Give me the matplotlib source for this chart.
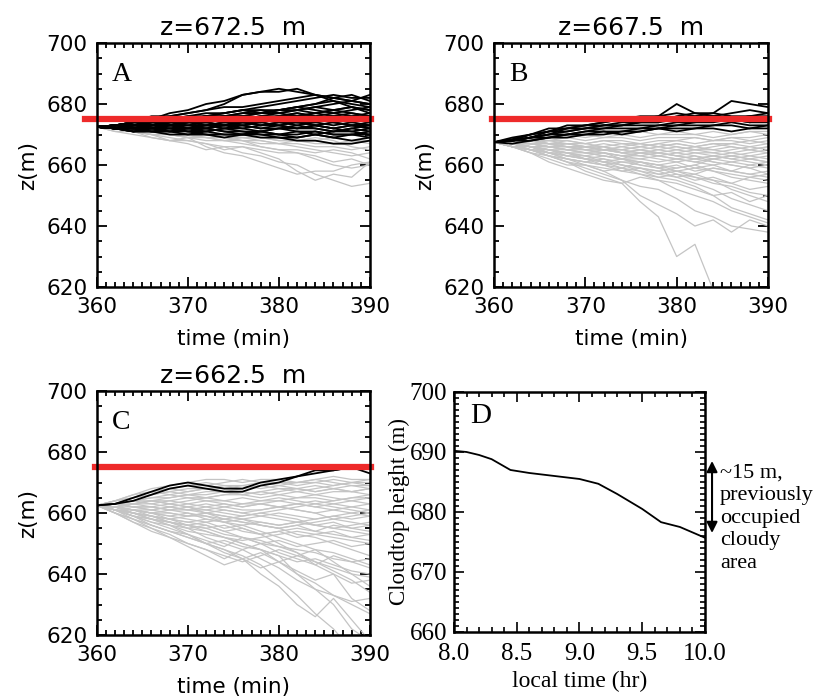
import matplotlib
matplotlib.use("Agg")
import matplotlib.pyplot as plt
from matplotlib.ticker import MultipleLocator

# time axis for the trajectories (min), one value every 2 min
time_min = [360, 362, 364, 366, 368, 370, 372, 374, 376, 378, 380, 382, 384, 386, 388, 390]

cloud_top = 675.0

# panel A, start height 672.5 m
a_black = [
    [672.5, 673, 674, 675, 676, 677, 678, 680, 683, 684, 685, 684, 683, 682, 681, 680],
    [672.5, 673, 674, 675, 677, 678, 680, 681, 683, 684, 684, 685, 683, 681, 679, 678],
    [672.5, 673, 674, 676, 676, 677, 678, 679, 679, 680, 681, 682, 683, 682, 683, 681],
    [672.5, 672, 673, 674, 675, 675, 676, 677, 678, 679, 680, 681, 682, 683, 682, 682],
    [672.5, 673, 673, 674, 674, 675, 676, 676, 677, 678, 678, 679, 680, 681, 680, 679],
    [672.5, 672, 673, 673, 674, 675, 675, 676, 677, 677, 678, 678, 679, 678, 679, 677],
    [672.5, 673, 674, 674, 675, 675, 676, 676, 676, 677, 677, 676, 677, 678, 677, 676],
    [672.5, 672, 672, 673, 673, 674, 674, 675, 675, 676, 676, 677, 676, 677, 676, 675],
    [672.5, 673, 673, 673, 674, 674, 675, 675, 674, 675, 676, 675, 675, 676, 675, 674],
    [672.5, 672, 672, 672, 673, 673, 673, 674, 674, 674, 675, 674, 674, 675, 674, 673],
    [672.5, 672, 671, 672, 672, 672, 673, 673, 672, 673, 673, 672, 673, 674, 673, 672],
    [672.5, 672, 672, 671, 671, 672, 672, 671, 671, 670, 670, 671, 670, 671, 672, 671],
    [672.5, 672, 671, 671, 670, 670, 671, 670, 670, 669, 669, 668, 668, 667, 667, 668],
    [672.5, 673, 672, 672, 673, 672, 673, 672, 673, 672, 673, 674, 673, 672, 673, 672],
    [672.5, 672, 673, 673, 674, 673, 674, 673, 674, 673, 674, 674, 675, 674, 675, 674],
    [672.5, 672, 672, 671, 672, 671, 671, 672, 671, 671, 670, 670, 671, 670, 670, 671],
    [672.5, 673, 673, 674, 675, 676, 676, 677, 678, 678, 677, 678, 679, 680, 681, 680],
    [672.5, 672, 672, 672, 671, 671, 670, 670, 670, 671, 672, 672, 673, 672, 673, 673],
    [672.5, 673, 674, 675, 675, 674, 675, 676, 676, 675, 676, 677, 676, 675, 676, 677],
    [672.5, 672, 672, 673, 673, 672, 672, 673, 674, 674, 673, 672, 672, 671, 671, 670],
    [672.5, 673, 673, 674, 673, 674, 675, 674, 675, 676, 677, 678, 677, 678, 679, 678],
    [672.5, 672, 671, 671, 671, 670, 670, 669, 670, 670, 669, 669, 670, 669, 668, 669],
    [672.5, 673, 673, 674, 674, 675, 674, 675, 676, 675, 676, 676, 677, 676, 677, 676],
    [672.5, 672, 673, 672, 673, 674, 673, 674, 673, 674, 675, 674, 675, 676, 675, 676],
    [672.5, 673, 672, 673, 672, 673, 672, 673, 674, 673, 674, 673, 674, 673, 674, 675],
    [672.5, 672, 671, 672, 671, 672, 671, 672, 672, 671, 672, 673, 672, 671, 672, 673],
    [672.5, 672, 672, 673, 674, 674, 675, 676, 675, 676, 675, 674, 673, 672, 671, 672],
    [672.5, 673, 674, 674, 675, 676, 677, 677, 678, 677, 678, 679, 678, 677, 678, 679],
    [672.5, 672, 672, 672, 672, 671, 672, 671, 670, 671, 670, 669, 670, 669, 670, 670],
    [672.5, 673, 673, 673, 674, 675, 676, 675, 676, 677, 678, 679, 680, 682, 681, 683],
    [672.5, 672, 673, 673, 673, 674, 674, 673, 673, 672, 672, 671, 671, 670, 670, 669],
    [672.5, 673, 674, 673, 674, 675, 675, 674, 675, 674, 675, 676, 675, 674, 673, 674],
]
a_gray = [
    [672.5, 672, 671, 670, 668, 667, 665, 666, 664, 663, 661, 660, 657, 655, 653, 654],
    [672.5, 671, 671, 670, 669, 668, 667, 665, 666, 664, 662, 658, 655, 657, 656, 661],
    [672.5, 672, 671, 669, 668, 669, 666, 664, 663, 661, 659, 657, 658, 658, 660, 661],
    [672.5, 672, 671, 670, 670, 669, 668, 668, 667, 666, 665, 664, 663, 661, 662, 660],
    [672.5, 672, 672, 671, 670, 669, 670, 669, 668, 668, 667, 666, 665, 664, 663, 664],
    [672.5, 672, 671, 671, 670, 670, 669, 668, 669, 668, 667, 667, 666, 666, 665, 666],
    [672.5, 672, 672, 671, 671, 670, 670, 670, 669, 669, 668, 668, 667, 667, 667, 668],
    [672.5, 672, 671, 671, 671, 670, 669, 669, 668, 667, 667, 668, 668, 667, 668, 667],
    [672.5, 672, 672, 672, 671, 671, 670, 670, 670, 669, 669, 668, 669, 668, 666, 665],
    [672.5, 672, 671, 670, 670, 669, 669, 668, 668, 666, 665, 665, 664, 665, 664, 662],
    [672.5, 671, 670, 669, 668, 668, 667, 666, 666, 665, 664, 664, 662, 660, 659, 660],
    [672.5, 672, 671, 671, 670, 670, 670, 669, 669, 669, 668, 668, 668, 669, 668, 668],
]

# panel B, start height 667.5 m
b_black = [
    [667.5, 668.5, 670, 671, 673, 673, 674, 675, 676, 676, 680, 677, 677, 681, 680, 679],
    [667.5, 669, 670, 672, 672, 673, 674, 675, 675, 676, 677, 676, 676, 677, 678, 677],
    [667.5, 668, 669, 671, 672, 673, 673, 674, 674, 675, 675, 676, 677, 676, 676, 676],
    [667.5, 668, 670, 671, 671, 672, 673, 673, 674, 674, 675, 675, 676, 675, 676, 675],
    [667.5, 668, 669, 670, 672, 672, 672, 673, 673, 673, 674, 674, 674, 675, 674, 674],
    [667.5, 668, 669, 670, 670, 671, 672, 672, 672, 673, 673, 673, 673, 674, 673, 673],
    [667.5, 668, 669, 669, 670, 670, 671, 671, 672, 672, 672, 672, 673, 673, 672, 672],
    [667.5, 667, 668, 669, 669, 670, 670, 671, 671, 672, 671, 672, 672, 671, 672, 673],
    [667.5, 668, 668, 669, 670, 671, 671, 670, 671, 672, 673, 674, 675, 675, 674, 675],
    [667.5, 668, 669, 670, 671, 672, 673, 673, 674, 674, 676, 677, 676, 675, 676, 677],
]
b_gray = [
    [667.5, 666, 665, 663, 661, 659, 657, 655, 653, 652, 649, 645, 643, 640, 639, 638],
    [667.5, 666, 664, 662, 660, 660, 658, 655, 650, 647, 644, 640, 642, 638, 642, 640],
    [667.5, 666, 664, 661, 659, 657, 655, 654, 648, 643, 630, 634, 619, 610, 605, 600],
    [667.5, 666, 665, 664, 662, 661, 660, 658, 657, 655, 654, 652, 650, 651, 648, 650],
    [667.5, 667, 665, 664, 663, 662, 661, 660, 659, 657, 658, 656, 655, 654, 652, 653],
    [667.5, 667, 666, 664, 664, 663, 662, 661, 661, 660, 659, 660, 658, 657, 656, 657],
    [667.5, 666, 665, 663, 662, 661, 660, 661, 660, 659, 660, 658, 659, 658, 660, 659],
    [667.5, 667, 666, 665, 664, 664, 663, 662, 662, 661, 662, 661, 660, 661, 662, 661],
    [667.5, 667, 666, 666, 665, 665, 664, 663, 663, 664, 663, 662, 663, 662, 663, 662],
    [667.5, 667, 667, 666, 666, 665, 665, 665, 664, 664, 665, 664, 663, 664, 663, 664],
    [667.5, 667, 667, 667, 666, 666, 666, 665, 666, 665, 666, 665, 665, 666, 665, 666],
    [667.5, 668, 668, 667, 667, 667, 666, 667, 667, 666, 667, 666, 667, 667, 666, 667],
    [667.5, 668, 668, 668, 668, 667, 668, 668, 667, 668, 668, 667, 668, 668, 667, 668],
    [667.5, 668, 668, 669, 669, 668, 669, 669, 668, 669, 669, 669, 668, 669, 669, 670],
    [667.5, 668, 669, 669, 670, 669, 670, 670, 669, 670, 670, 670, 671, 670, 671, 671],
    [667.5, 667, 666, 664, 663, 662, 661, 659, 658, 657, 656, 657, 655, 652, 650, 648],
    [667.5, 667, 665, 663, 662, 660, 658, 659, 657, 656, 655, 653, 650, 646, 644, 642],
    [667.5, 666, 666, 664, 662, 661, 662, 660, 658, 656, 657, 655, 656, 654, 656, 655],
    [667.5, 667, 666, 665, 665, 664, 663, 662, 664, 663, 662, 663, 661, 660, 659, 660],
    [667.5, 668, 667, 666, 666, 665, 666, 664, 665, 664, 663, 664, 664, 663, 664, 665],
    [667.5, 667, 667, 666, 665, 664, 664, 663, 662, 663, 664, 665, 664, 665, 666, 665],
    [667.5, 668, 668, 667, 666, 666, 665, 665, 666, 667, 666, 665, 666, 667, 668, 667],
    [667.5, 667, 666, 665, 664, 662, 660, 659, 661, 660, 658, 657, 659, 658, 657, 656],
    [667.5, 666, 665, 664, 663, 663, 661, 660, 659, 658, 659, 660, 662, 663, 662, 663],
    [667.5, 668, 667, 667, 667, 666, 665, 664, 664, 663, 662, 661, 662, 661, 660, 661],
    [667.5, 667, 666, 665, 664, 663, 664, 662, 661, 660, 661, 659, 660, 658, 657, 658],
    [667.5, 668, 667, 666, 667, 666, 665, 666, 665, 666, 667, 666, 665, 664, 665, 664],
    [667.5, 667, 666, 666, 665, 664, 665, 664, 663, 662, 661, 662, 663, 662, 661, 660],
    [667.5, 666, 665, 665, 664, 662, 661, 662, 661, 659, 658, 659, 658, 656, 655, 654],
    [667.5, 668, 668, 667, 668, 667, 668, 667, 666, 667, 668, 669, 668, 669, 668, 669],
    [667.5, 667, 667, 666, 665, 666, 665, 664, 665, 664, 663, 662, 661, 660, 659, 657],
    [667.5, 666, 664, 663, 661, 660, 659, 658, 659, 658, 656, 654, 652, 649, 647, 645],
    [667.5, 668, 667, 668, 667, 666, 667, 666, 667, 666, 665, 666, 667, 666, 665, 666],
    [667.5, 667, 666, 665, 663, 662, 663, 662, 660, 659, 657, 656, 654, 653, 651, 650],
    [667.5, 668, 669, 668, 669, 670, 669, 670, 671, 670, 671, 670, 669, 670, 671, 670],
    [667.5, 667, 668, 667, 666, 665, 664, 663, 664, 665, 664, 663, 662, 663, 662, 661],
    [667.5, 666, 665, 663, 661, 658, 656, 654, 656, 655, 652, 650, 648, 645, 643, 641],
]

# panel C, start height 662.5 m
c_black = [
    [662.5, 663, 665, 667, 669, 670, 669, 668, 668, 670, 671, 672, 674, 674, 675, 673],
    [662.5, 663, 664, 666, 668, 669, 668, 667, 667, 669, 670, 672, 673, 674, 675, 675],
]
c_gray = [
    [662.5, 664, 666, 668, 669, 670, 671, 671, 670, 671, 671, 670, 671, 672, 671, 671],
    [662.5, 663, 665, 666, 667, 668, 668, 669, 669, 668, 669, 670, 670, 669, 670, 670],
    [662.5, 663, 664, 665, 665, 666, 667, 667, 666, 667, 668, 668, 667, 668, 669, 668],
    [662.5, 663, 663, 664, 664, 665, 665, 666, 666, 665, 666, 667, 666, 667, 667, 666],
    [662.5, 662, 663, 663, 664, 663, 664, 664, 665, 664, 664, 665, 665, 664, 665, 665],
    [662.5, 662, 662, 662, 663, 662, 663, 662, 663, 663, 662, 663, 664, 663, 662, 663],
    [662.5, 662, 661, 661, 662, 661, 661, 662, 661, 661, 662, 661, 660, 661, 662, 661],
    [662.5, 662, 661, 660, 660, 659, 660, 659, 658, 659, 660, 659, 658, 659, 658, 659],
    [662.5, 661, 660, 659, 658, 657, 658, 657, 656, 657, 656, 657, 656, 655, 656, 657],
    [662.5, 661, 659, 658, 656, 655, 656, 654, 655, 653, 654, 652, 653, 654, 652, 653],
    [662.5, 661, 659, 657, 655, 653, 651, 649, 652, 650, 651, 649, 650, 651, 649, 650],
    [662.5, 660, 658, 655, 653, 650, 648, 645, 648, 650, 647, 645, 643, 646, 644, 645],
    [662.5, 660, 657, 654, 652, 649, 646, 643, 645, 647, 644, 641, 638, 640, 637, 638],
    [662.5, 661, 659, 656, 654, 652, 650, 648, 646, 643, 638, 633, 627, 622, 615, 610],
    [662.5, 661, 658, 656, 654, 653, 650, 648, 645, 640, 636, 630, 626, 632, 625, 618],
    [662.5, 662, 660, 658, 657, 655, 654, 652, 650, 648, 646, 640, 637, 633, 630, 627],
    [662.5, 661, 660, 659, 657, 656, 655, 653, 652, 650, 649, 647, 643, 640, 632, 628],
    [662.5, 662, 661, 660, 659, 658, 657, 655, 656, 654, 652, 650, 648, 644, 640, 636],
    [662.5, 663, 662, 661, 660, 659, 659, 658, 657, 656, 655, 653, 652, 650, 648, 646],
    [662.5, 663, 664, 664, 663, 662, 661, 660, 659, 660, 659, 658, 656, 657, 655, 654],
    [662.5, 664, 665, 666, 667, 666, 665, 664, 663, 664, 665, 664, 663, 662, 661, 660],
    [662.5, 664, 666, 667, 668, 669, 669, 670, 671, 670, 669, 668, 667, 668, 667, 668],
    [662.5, 663, 664, 666, 668, 669, 670, 669, 668, 669, 670, 670, 671, 670, 669, 669],
    [662.5, 662, 663, 664, 665, 666, 666, 667, 668, 669, 668, 667, 668, 669, 670, 671],
    [662.5, 662, 661, 660, 661, 662, 660, 658, 659, 660, 661, 662, 663, 664, 665, 666],
    [662.5, 661, 660, 658, 657, 656, 657, 658, 657, 656, 655, 656, 657, 658, 659, 660],
    [662.5, 661, 659, 657, 656, 654, 653, 652, 651, 652, 653, 654, 653, 652, 651, 650],
    [662.5, 660, 658, 656, 654, 652, 650, 651, 649, 648, 646, 644, 645, 643, 641, 640],
    [662.5, 662, 660, 659, 658, 656, 655, 656, 654, 653, 654, 655, 654, 656, 655, 656],
    [662.5, 663, 662, 662, 661, 661, 662, 663, 662, 663, 664, 663, 662, 663, 664, 663],
    [662.5, 661, 659, 658, 657, 655, 652, 650, 648, 645, 642, 638, 635, 633, 631, 632],
    [662.5, 662, 661, 660, 658, 657, 656, 654, 652, 651, 649, 648, 647, 645, 644, 642],
    [662.5, 663, 664, 665, 666, 667, 668, 668, 669, 670, 670, 669, 670, 671, 670, 669],
    [662.5, 662, 663, 664, 663, 664, 665, 666, 667, 666, 667, 668, 669, 668, 667, 668],
    [662.5, 663, 662, 661, 662, 663, 662, 661, 660, 661, 662, 663, 662, 661, 660, 659],
    [662.5, 661, 661, 660, 659, 660, 658, 657, 658, 656, 655, 656, 654, 653, 652, 651],
    [662.5, 662, 660, 658, 656, 653, 650, 647, 645, 642, 644, 646, 648, 647, 645, 643],
    [662.5, 663, 665, 667, 666, 665, 664, 663, 662, 663, 662, 661, 660, 658, 657, 656],
    [662.5, 662, 661, 659, 657, 656, 654, 652, 650, 648, 644, 640, 635, 630, 622, 618],
    [662.5, 664, 665, 667, 668, 667, 668, 667, 666, 667, 666, 665, 666, 665, 664, 665],
    [662.5, 661, 660, 659, 658, 659, 660, 661, 660, 659, 658, 657, 656, 655, 654, 653],
    [662.5, 663, 664, 663, 662, 661, 660, 659, 658, 657, 656, 657, 658, 659, 660, 661],
    [662.5, 660, 657, 655, 652, 650, 648, 646, 644, 646, 648, 646, 644, 642, 640, 639],
    [662.5, 662, 663, 662, 661, 660, 659, 657, 655, 653, 650, 647, 644, 641, 638, 634],
]

# panel D, cloud top height vs local time
local_time = [8.0, 8.1, 8.2, 8.3, 8.45, 8.6, 8.8, 9.0, 9.15, 9.3, 9.5, 9.65, 9.8, 10.0]
cloudtop_height = [690.2, 690.0, 689.5, 688.8, 687.0, 686.5, 686.0, 685.5, 684.7, 683.0,
                   680.5, 678.3, 677.5, 675.7]
gap_low, gap_high = 676.5, 688.5

panels = [
    ("A", "z=672.5  m", a_gray, a_black),
    ("B", "z=667.5  m", b_gray, b_black),
    ("C", "z=662.5  m", c_gray, c_black),
]
positions = [
    [0.119, 0.5876, 0.3354, 0.3506],
    [0.6069, 0.5876, 0.3366, 0.3506],
    [0.119, 0.0876, 0.3354, 0.3506],
]

SANS = "DejaVu Sans"
SERIF = "Liberation Serif"

fig = plt.figure(figsize=(8.14, 6.96), dpi=100)

for (letter, title, gray_lines, black_lines), pos in zip(panels, positions):
    ax = fig.add_axes(pos)
    for z in gray_lines:
        ax.plot(time_min, z, color="#c4c4c4", lw=0.9)
    for z in black_lines:
        ax.plot(time_min, z, color="black", lw=1.3)
    xmin = -0.045 if letter == "A" else -0.008
    ax.axhline(cloud_top, xmin=xmin, xmax=1.005, color="#ee2a2a", lw=4.5, clip_on=False)
    ax.set_xlim(360, 390)
    ax.set_ylim(620, 700)
    ax.xaxis.set_major_locator(MultipleLocator(10))
    ax.xaxis.set_minor_locator(MultipleLocator(1))
    ax.yaxis.set_major_locator(MultipleLocator(20))
    ax.yaxis.set_minor_locator(MultipleLocator(5))
    ax.tick_params(which="both", direction="in", top=True, right=True,
                   width=1.3, pad=7)
    ax.tick_params(which="major", length=7)
    ax.tick_params(which="minor", length=3.5)
    for lab in ax.get_xticklabels() + ax.get_yticklabels():
        lab.set_family(SANS)
        lab.set_fontsize(15.5)
    for sp in ax.spines.values():
        sp.set_linewidth(1.8)
    ax.set_title(title, fontsize=18, family=SANS, pad=6)
    ax.set_xlabel("time (min)", fontsize=15.5, family=SANS, labelpad=9)
    ax.set_ylabel("z(m)", fontsize=15.5, family=SANS, labelpad=6)
    ax.text(0.09, 0.87, letter, transform=ax.transAxes, fontsize=20,
            family=SERIF, ha="center", va="center")

# panel D
axd = fig.add_axes([0.5577, 0.092, 0.3084, 0.3448])
axd.plot(local_time, cloudtop_height, color="black", lw=1.3)
axd.set_xlim(8.0, 10.0)
axd.set_ylim(660, 700)
axd.xaxis.set_major_locator(MultipleLocator(0.5))
axd.xaxis.set_minor_locator(MultipleLocator(0.1))
axd.yaxis.set_major_locator(MultipleLocator(10))
axd.yaxis.set_minor_locator(MultipleLocator(1))
axd.xaxis.set_major_formatter(plt.FormatStrFormatter("%.1f"))
axd.tick_params(which="both", direction="in", top=True, right=True,
                width=1.2, pad=5)
axd.tick_params(axis="x", which="major", pad=8)
axd.tick_params(which="major", length=7)
axd.tick_params(which="minor", length=3.5)
for lab in axd.get_xticklabels() + axd.get_yticklabels():
    lab.set_family(SERIF)
    lab.set_fontsize(18)
for sp in axd.spines.values():
    sp.set_linewidth(1.8)
axd.set_xlabel("local time (hr)", fontsize=17, family=SERIF, labelpad=4)
axd.set_ylabel("Cloudtop height (m)", fontsize=16.5, family=SERIF, labelpad=0)
axd.text(0.107, 0.9, "D", transform=axd.transAxes, fontsize=21,
         family=SERIF, ha="center", va="center")

# arrow marking the previously cloudy layer
trans = axd.get_yaxis_transform()
axd.annotate("", xy=(1.028, gap_low), xytext=(1.028, gap_high),
             xycoords=trans, textcoords=trans,
             arrowprops=dict(arrowstyle="<|-|>", color="black", lw=1.5,
                             mutation_scale=16, shrinkA=0, shrinkB=0))
axd.text(1.06, 0.70, "~15 m,\npreviously\noccupied\ncloudy\narea",
         transform=axd.transAxes, fontsize=16, family=SERIF,
         ha="left", va="top", linespacing=1.25)

fig.savefig("out.png", dpi=100)
